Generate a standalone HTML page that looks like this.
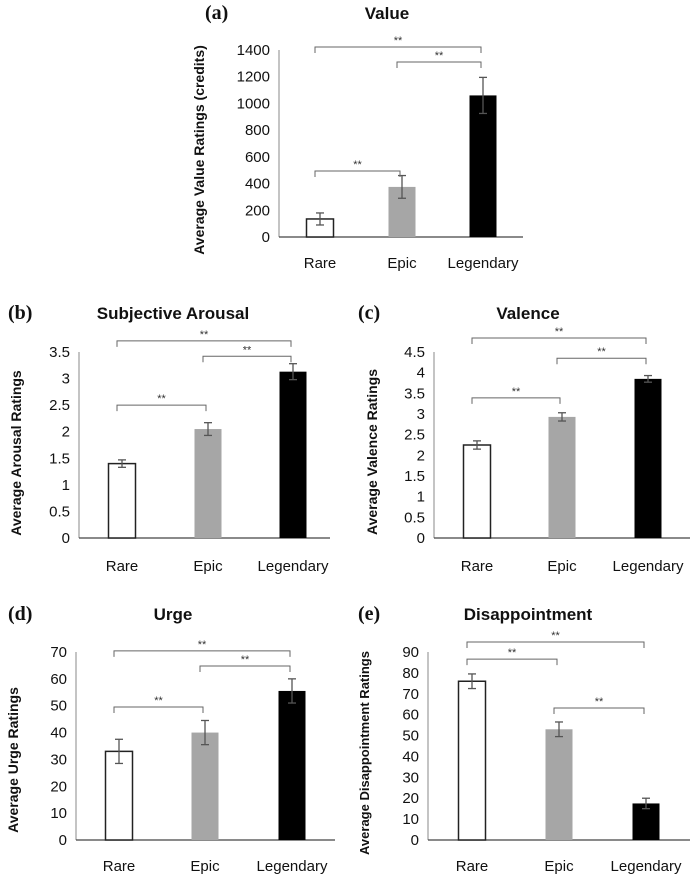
<!DOCTYPE html>
<html><head><meta charset="utf-8"><style>
html,body{margin:0;padding:0;background:#fff;}
svg{display:block;}
text{font-family:"Liberation Sans",sans-serif;}
</style></head><body>
<svg id="fig" width="690" height="876" viewBox="0 0 690 876" xmlns="http://www.w3.org/2000/svg"></svg>
<script>
const categories = ["Rare","Epic","Legendary"];
const valueMeans = [135, 375, 1060];
const valueErrs = [45, 85, 135];
const valueTicks = [0,200,400,600,800,1000,1200,1400];
const valueBrackets = [[0,2,1422],[1,2,1310],[0,1,494]];
const arousalMeans = [1.4, 2.05, 3.13];
const arousalErrs = [0.07, 0.12, 0.15];
const arousalTicks = [0,0.5,1,1.5,2,2.5,3,3.5];
const arousalBrackets = [[0,2,3.71],[1,2,3.42],[0,1,2.5]];
const valenceMeans = [2.25, 2.93, 3.85];
const valenceErrs = [0.1, 0.1, 0.08];
const valenceTicks = [0,0.5,1,1.5,2,2.5,3,3.5,4,4.5];
const valenceBrackets = [[0,2,4.84],[1,2,4.35],[0,1,3.39]];
const urgeMeans = [33, 40, 55.5];
const urgeErrs = [4.5, 4.5, 4.5];
const urgeTicks = [0,10,20,30,40,50,60,70];
const urgeBrackets = [[0,2,70.4],[1,2,64.8],[0,1,49.5]];
const disMeans = [76, 53, 17.5];
const disErrs = [3.5, 3.5, 2.5];
const disTicks = [0,10,20,30,40,50,60,70,80,90];
const disBrackets = [[0,2,94.8],[0,1,86.6],[1,2,63.2]];

const NS="http://www.w3.org/2000/svg";
const svg=document.getElementById('fig');
function mk(tag,attrs,parent,txt){const e=document.createElementNS(NS,tag);for(const k in attrs)e.setAttribute(k,attrs[k]);if(txt!==undefined)e.textContent=txt;parent.appendChild(e);return e;}
const fills=["#ffffff","#a6a6a6","#000000"];

function panel(p){
  const g=mk('g',{},svg);
  
  
  const ymax=p.ticks[p.ticks.length-1];
  const y=v=>p.y0-(v/ymax)*(p.y0-p.yTop);
  const x=i=>p.cx[i];
  let a=mk('line',{x1:p.ax,y1:p.yTop,x2:p.ax,y2:p.y0,stroke:'#888','stroke-width':1},g);
  
  
  a=mk('line',{x1:p.ax,y1:p.y0,x2:p.axEnd,y2:p.y0,stroke:'#444','stroke-width':1.2},g);
  
  
  p.ticks.forEach(t=>{
    const tl=mk('text',{x:p.ax-9,y:y(t)+5,'text-anchor':'end','font-size':15,fill:'#111'},g,String(t));
    
    
  });
  categories.forEach((c,i)=>{
    const m=p.means[i],e=p.errs[i];
    const bw=27;
    const r=mk('rect',{x:x(i)-bw/2,y:y(m),width:bw,height:p.y0-y(m),fill:fills[i],stroke:i===0?'#222':'none','stroke-width':1.5},g);
    
    
    const eg=mk('g',{stroke:'#555','stroke-width':1.3},g);
    
    
    mk('line',{x1:x(i),y1:y(m+e),x2:x(i),y2:y(m-e)},eg);
    mk('line',{x1:x(i)-4,y1:y(m+e),x2:x(i)+4,y2:y(m+e)},eg);
    mk('line',{x1:x(i)-4,y1:y(m-e),x2:x(i)+4,y2:y(m-e)},eg);
    const cl=mk('text',{x:x(i),y:p.labY,'text-anchor':'middle','font-size':15,fill:'#111'},g,c);
    
    
  });
  p.brackets.forEach(b=>{
    const by=y(b[2]),x1=x(b[0])-5,x2=x(b[1])-2;
    const bg=mk('g',{},g);
    
    
    mk('path',{d:`M${x1},${by+6}V${by}H${x2}V${by+6}`,fill:'none',stroke:'#666','stroke-width':1},bg);
    mk('text',{x:(x1+x2)/2,y:by-3,'text-anchor':'middle','font-size':11,fill:'#333'},bg,'**');
  });
  const tt=mk('text',{x:p.titleX,y:p.titleY,'text-anchor':'middle','font-size':17,'font-weight':'bold',fill:'#111'},g,p.title);
  
  
  const lt=mk('text',{x:p.letX,y:p.titleY,'font-size':20,'font-weight':'bold',fill:'#111',style:'font-family:"Liberation Serif",serif'},g,p.letter);
  
  
  const yt=mk('text',{x:0,y:0,transform:`translate(${p.ytX},${p.ytY}) rotate(-90)`,'text-anchor':'middle','font-size':p.ytSize,'font-weight':'bold',fill:'#111'},g,p.ytitle);
  
  
}

panel({id:'value',means:valueMeans,errs:valueErrs,ticks:valueTicks,brackets:valueBrackets,ax:279,axEnd:523,yTop:50,y0:237,cx:[320,402,483],labY:268,title:'Value',titleX:387,titleY:19,letter:'(a)',letX:205,ytitle:'Average Value Ratings (credits)',ytX:204,ytY:150,ytSize:14});
panel({id:'arousal',means:arousalMeans,errs:arousalErrs,ticks:arousalTicks,brackets:arousalBrackets,ax:79,axEnd:330,yTop:352,y0:538,cx:[122,208,293],labY:571,title:'Subjective Arousal',titleX:173,titleY:319,letter:'(b)',letX:8,ytitle:'Average Arousal Ratings',ytX:21,ytY:453,ytSize:14});
panel({id:'valence',means:valenceMeans,errs:valenceErrs,ticks:valenceTicks,brackets:valenceBrackets,ax:434,axEnd:690,yTop:352,y0:538,cx:[477,562,648],labY:571,title:'Valence',titleX:528,titleY:319,letter:'(c)',letX:358,ytitle:'Average Valence Ratings',ytX:377,ytY:452,ytSize:14});
panel({id:'urge',means:urgeMeans,errs:urgeErrs,ticks:urgeTicks,brackets:urgeBrackets,ax:76,axEnd:335,yTop:652,y0:840,cx:[119,205,292],labY:871,title:'Urge',titleX:173,titleY:620,letter:'(d)',letX:8,ytitle:'Average Urge Ratings',ytX:18,ytY:760,ytSize:14});
panel({id:'disappointment',means:disMeans,errs:disErrs,ticks:disTicks,brackets:disBrackets,ax:428,axEnd:690,yTop:652,y0:840,cx:[472,559,646],labY:871,title:'Disappointment',titleX:528,titleY:620,letter:'(e)',letX:358,ytitle:'Average Disappointment Ratings',ytX:369,ytY:753,ytSize:13});
</script>
</body></html>
